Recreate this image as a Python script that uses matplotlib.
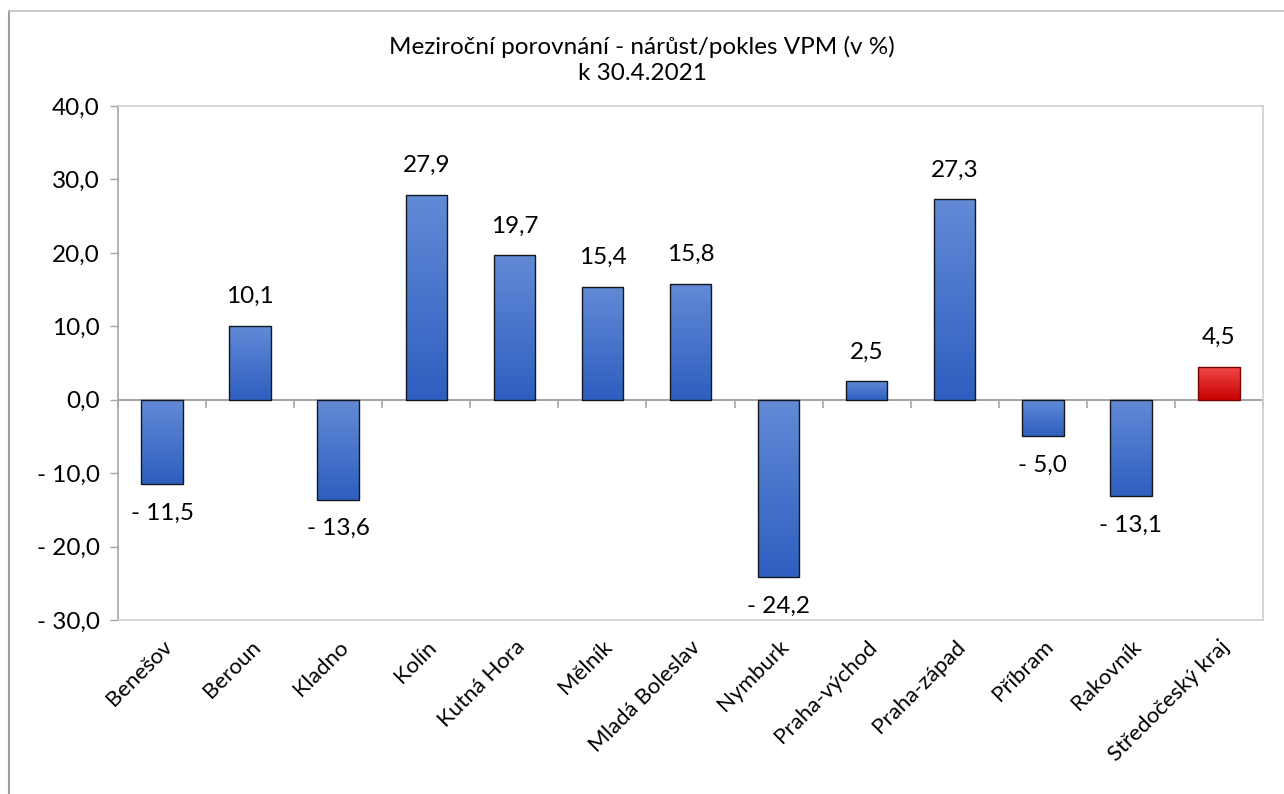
import numpy as np
import matplotlib
matplotlib.use("Agg")
import matplotlib.pyplot as plt
from matplotlib.lines import Line2D
from matplotlib.colors import LinearSegmentedColormap

categories = ["Benešov", "Beroun", "Kladno", "Kolín", "Kutná Hora", "Mělník",
              "Mladá Boleslav", "Nymburk", "Praha-východ", "Praha-západ",
              "Příbram", "Rakovník", "Středočeský kraj"]
values = [-11.5, 10.1, -13.6, 27.9, 19.7, 15.4, 15.8, -24.2, 2.5, 27.3, -5.0, -13.1, 4.5]
highlight = [False] * 12 + [True]
yticks = [-30, -20, -10, 0, 10, 20, 30, 40]
title_lines = ["Meziroční porovnání - nárůst/pokles VPM (v %)", "k 30.4.2021"]

plt.rcParams['font.family'] = ['Lato', 'DejaVu Sans']

def fmt(v):
    s = f"{abs(v):.1f}".replace(".", ",")
    return ("- " + s) if v < 0 else s

fig = plt.figure(figsize=(12.84, 7.94), dpi=100)
ax = fig.add_axes([118/1284, 1 - 620/794, (1263-118)/1284, (620-106)/794])

ymin, ymax = yticks[0], yticks[-1]
ax.set_ylim(ymin, ymax)
ax.set_xlim(-0.5, len(categories) - 0.5)
ax.set_autoscale_on(False)

x = np.arange(len(categories))
blue_cmap = LinearSegmentedColormap.from_list("b", ["#2e5fc0", "#628ad6"])
red_cmap = LinearSegmentedColormap.from_list("r", ["#c80000", "#f24a4a"])
grad = np.linspace(0, 1, 256).reshape(-1, 1)

bars = ax.bar(x, values, width=0.47, facecolor="none", zorder=3)
for b, v, hl in zip(bars, values, highlight):
    b.set_edgecolor("#7a0000" if hl else "#101820")
    b.set_linewidth(1.0)
    x0 = b.get_x(); w = b.get_width()
    y0 = min(0, v); y1 = max(0, v)
    im = ax.imshow(grad, extent=[x0, x0 + w, y0, y1], origin="lower",
                   aspect="auto", cmap=red_cmap if hl else blue_cmap, zorder=2)
    im.set_clip_path(b)
    off = 21 if v >= 0 else -21
    ax.annotate(fmt(v), (x0 + w/2, v), xytext=(0, off), textcoords="offset points",
                ha="center", va="center", fontsize=17.5, color="#000000")

# y axis
ax.set_yticks(yticks)
ax.set_yticklabels([fmt(t) for t in yticks], fontsize=17.5)
ax.tick_params(axis="y", direction="out", length=6, width=1, color="#a6a6a6", pad=7)

# category labels
ax.set_xticks(x)
ax.set_xticklabels(categories, rotation=45, ha="right", va="top",
                   rotation_mode="anchor", fontsize=16)
ax.tick_params(axis="x", length=0, pad=12)

for s in ["top", "right", "bottom"]:
    ax.spines[s].set_color("#d0d0d0")
    ax.spines[s].set_linewidth(1.2)
ax.spines["left"].set_color("#a6a6a6")
ax.spines["left"].set_linewidth(1.2)

# category axis at zero with boundary ticks
sec = ax.secondary_xaxis((0 - ymin) / (ymax - ymin))
sec.set_xticks(np.arange(len(categories) + 1) - 0.5)
sec.set_xticklabels([])
sec.tick_params(axis="x", direction="out", length=6, width=1.2, color="#a6a6a6")
sec.spines["bottom"].set_color("#a6a6a6")
sec.spines["bottom"].set_linewidth(1.5)
ax.set_zorder(1)

# title
fig.text(0.5, 1 - 47/794, title_lines[0], ha="center", va="center", fontsize=17.5)
fig.text(0.5, 1 - 74/794, title_lines[1], ha="center", va="center", fontsize=17.5)

# outer chart border (top & left visible)
fig.add_artist(Line2D([9/1284, 9/1284], [0, 1 - 11/794], transform=fig.transFigure,
                      color="#a0a0a0", lw=1.5))
fig.add_artist(Line2D([9/1284, 1], [1 - 11/794, 1 - 11/794], transform=fig.transFigure,
                      color="#c0c0c0", lw=1.2))

fig.savefig("out.png", dpi=100)
